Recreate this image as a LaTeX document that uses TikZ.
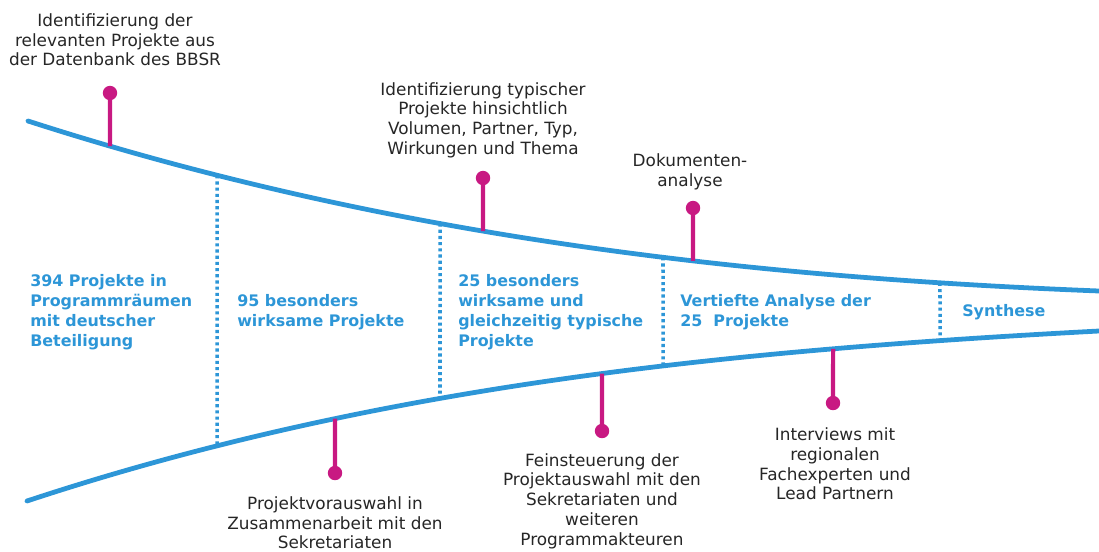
\documentclass[tikz,border=0pt]{standalone}
\usepackage{fontspec}
\setmainfont{DejaVu Sans}
\usepackage{xcolor}
\usepackage{tikz}
\usetikzlibrary{positioning}

\definecolor{funnelblue}{RGB}{45,150,215}
\definecolor{pinpink}{RGB}{200,25,130}

\begin{document}
\begin{tikzpicture}[
  x=0.025cm,
  y=-0.025cm,
  lab/.style={font=\fontsize{12}{14}\selectfont, text=black!85, align=center, inner sep=0pt},
  phase/.style={font=\fontsize{11.3}{14.2}\selectfont\bfseries, text=funnelblue, align=left, anchor=west, inner sep=0pt},
  dot/.style={circle, fill=pinpink, minimum size=0.36cm, inner sep=0pt},
  pin/.style={draw=pinpink, line width=3pt},
  funnel/.style={draw=funnelblue, line width=3.4pt, line cap=round},
  sep/.style={draw=funnelblue, line width=2.5pt, dash pattern=on 2.2pt off 2.2pt}
]
\useasboundingbox (0,0) rectangle (1099,552);

% funnel edges, with the points where borders and pins meet them
\path (28,121) .. controls (385,236) and (742,277) .. (1099,291)
  coordinate[pos=0.0766] (u1) coordinate[pos=0.1765] (u2)
  coordinate[pos=0.3847] (u3) coordinate[pos=0.4248] (u4)
  coordinate[pos=0.5929] (u5) coordinate[pos=0.6209] (u6)
  coordinate[pos=0.8515] (u7);
\path (27,501) .. controls (384,383) and (742,350) .. (1099,331)
  coordinate[pos=0.1774] (l1) coordinate[pos=0.2873] (l2)
  coordinate[pos=0.3853] (l3) coordinate[pos=0.5364] (l4)
  coordinate[pos=0.5933] (l5) coordinate[pos=0.7519] (l6)
  coordinate[pos=0.8517] (l7);

% phase borders
\draw[sep] (u2) -- (l1);
\draw[sep] (u3) -- (l3);
\draw[sep] (u5) -- (l5);
\draw[sep] (u7) -- (l7);

\draw[funnel] (28,121) .. controls (385,236) and (742,277) .. (1099,291);
\draw[funnel] (27,501) .. controls (384,383) and (742,350) .. (1099,331);

% phases
\node[phase] (p1) at (30,312) {394 Projekte in\\Programmräumen\\mit deutscher\\Beteiligung};
\node[phase] (p2) at (237,312) {95 besonders\\wirksame Projekte};
\node[phase] (p3) at (458,312) {25 besonders\\wirksame und\\gleichzeitig typische\\Projekte};
\node[phase] (p4) at (680,312) {Vertiefte Analyse der\\25\ \ Projekte};
\node[phase] (p5) at (962,312) {Synthese};

% pins above
\node[dot] (d1) at (110,93) {};
\node[dot] (d2) at (483,178) {};
\node[dot] (d3) at (693,208) {};
\draw[pin] (d1.center) -- (u1);
\draw[pin] (d2.center) -- (u4);
\draw[pin] (d3.center) -- (u6);
\node[lab] (t1) at (115,40) {Identifizierung der\\relevanten Projekte aus\\der Datenbank des BBSR};
\node[lab] (t2) at (483,120) {Identifizierung typischer\\Projekte hinsichtlich\\Volumen, Partner, Typ,\\Wirkungen und Thema};
\node[lab] (t3) at (690,172) {Dokumenten-\\analyse};

% pins below
\node[dot] (d4) at (335,473) {};
\node[dot] (d5) at (602,431) {};
\node[dot] (d6) at (833,403) {};
\draw[pin] (d4.center) -- (l2);
\draw[pin] (d5.center) -- (l4);
\draw[pin] (d6.center) -- (l6);
\node[lab] (t4) at (335,523) {Projektvorauswahl in\\Zusammenarbeit mit den\\Sekretariaten};
\node[lab] (t5) at (602,501) {Feinsteuerung der\\Projektauswahl mit den\\Sekretariaten und\\weiteren\\Programmakteuren};
\node[lab] (t6) at (835,464) {Interviews mit\\regionalen\\Fachexperten und\\Lead Partnern};
\end{tikzpicture}
\end{document}
